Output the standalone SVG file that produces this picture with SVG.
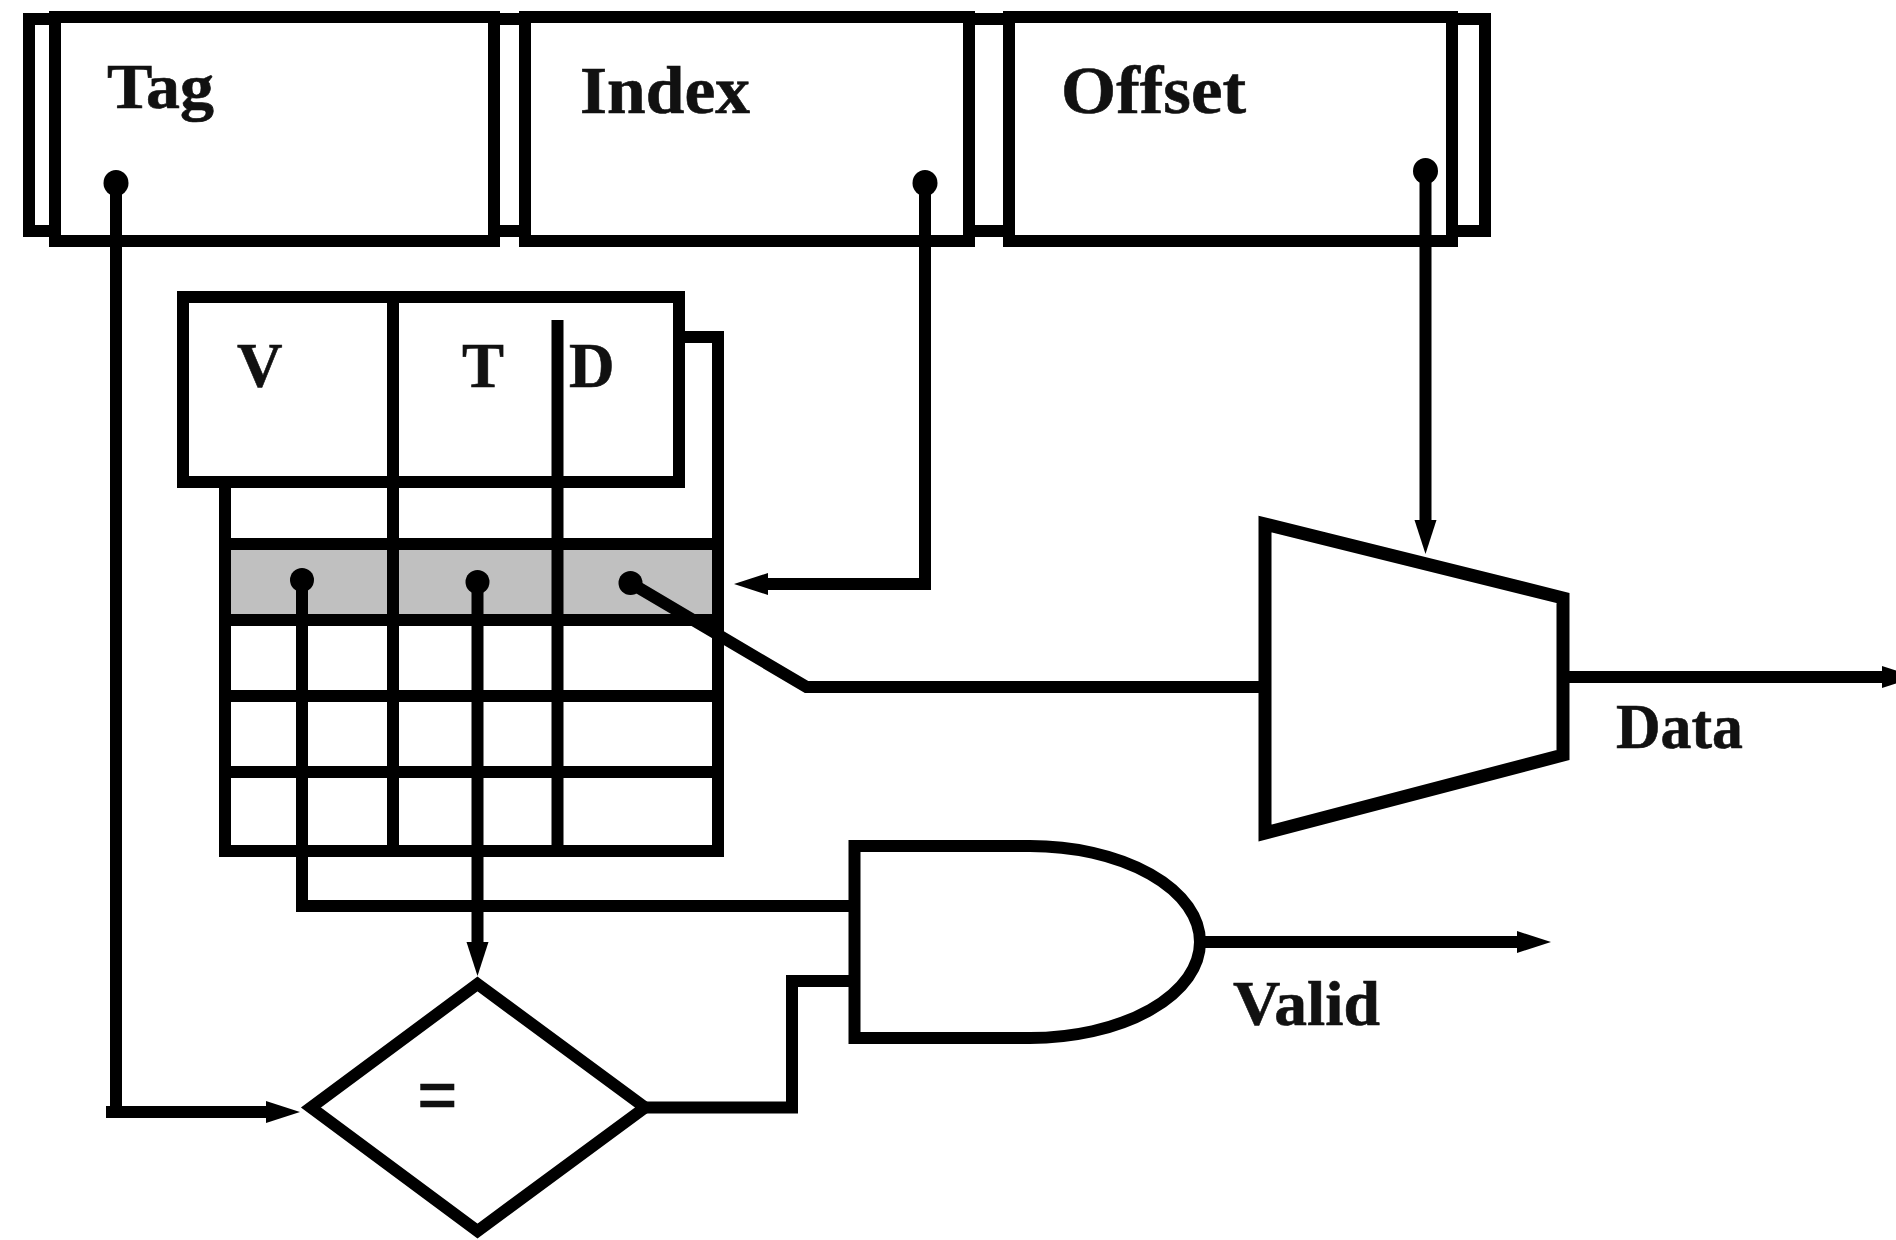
<svg xmlns="http://www.w3.org/2000/svg" width="1896" height="1240" viewBox="0 0 1896 1240">
<style>
.s{fill:#fff;stroke:#000;stroke-width:12;stroke-linejoin:miter}
.g{fill:#c0c0c0;stroke:none}
.n{fill:none;stroke:#000;stroke-width:12}
.w{fill:none;stroke:#000;stroke-width:12;stroke-linejoin:miter}
.d{fill:#000;stroke:none}
text{font-family:"Liberation Serif","Times New Roman",serif;font-weight:bold;font-size:63px;fill:#111;stroke:#111;stroke-width:0.6}
</style>
<defs>
<marker id="a" markerUnits="userSpaceOnUse" markerWidth="44" markerHeight="30" refX="2" refY="13" orient="auto"><path d="M0,2 L34,13 L0,24 Z" fill="#000"/></marker>
</defs>
<rect width="1896" height="1240" fill="#fff"/>
<g id="register">
<rect id="register-back" class="s" x="29" y="19" width="1456" height="212"/>
<g id="tag"><rect class="s" x="55" y="17" width="439" height="224"/><text x="107" y="108" textLength="107" lengthAdjust="spacingAndGlyphs">Tag</text></g>
<g id="index"><rect class="s" x="525" y="17" width="444" height="224"/><text x="580" y="113" textLength="170" lengthAdjust="spacingAndGlyphs" style="font-size:67px">Index</text></g>
<g id="offset"><rect class="s" x="1009" y="17" width="443" height="224"/><text x="1061" y="113" textLength="185" lengthAdjust="spacingAndGlyphs" style="font-size:67px">Offset</text></g>
</g>
<g id="cache">
<rect id="cache-back" class="s" x="225" y="337" width="493" height="514"/>
<rect id="cache-row" class="g" x="225" y="544" width="493" height="76"/>
<path class="n" d="M225,544H718M225,620H718M225,696H718M225,772H718M393,482V851M557.500,482V851"/>
<rect id="cache-back-frame" x="225" y="337" width="493" height="514" fill="none" stroke="#000" stroke-width="12"/>
<g id="cache-head"><rect x="183" y="297" width="496" height="185" fill="#fff" stroke="#000" stroke-width="12"/>
<path class="n" d="M393,297V482M557.500,320V482"/>
<text x="237" y="387">V</text><text x="462" y="387">T</text><text x="569" y="387">D</text></g>
</g>
<g id="mux"><path class="s" style="stroke-width:13" d="M1265,524V833L1563,755V598Z"/></g>
<g id="and-gate"><path class="s" d="M854.500,846H1030A170,96 0 0 1 1030,1038H854.500Z"/></g>
<g id="comparator"><path class="s" d="M477.500,984L645,1107.500L477.500,1231L311,1107.500Z"/><text x="417" y="1124" style="font-size:84px" textLength="41" lengthAdjust="spacingAndGlyphs">=</text></g>
<g id="connectors">
<path class="w" d="M116,183V1112H106M116,1112H268" marker-end="url(#a)"/>
<path class="w" d="M925,183V584H766" marker-end="url(#a)"/>
<path class="w" d="M1425.500,171V522" marker-end="url(#a)"/>
<path class="w" d="M302,580V906H852"/>
<path class="w" d="M477.500,582V944" marker-end="url(#a)"/>
<path class="w" d="M630.500,583L806.500,687H1265"/>
<path class="w" d="M1563,677H1884" marker-end="url(#a)"/>
<path class="w" d="M1200,942H1519" marker-end="url(#a)"/>
<path class="w" d="M645,1107.500H792V981H852"/>
<ellipse class="d" cx="116" cy="183" rx="12.500" ry="13"/>
<ellipse class="d" cx="925" cy="183" rx="12.500" ry="13"/>
<ellipse class="d" cx="1425.500" cy="171" rx="12.500" ry="13"/>
<ellipse class="d" cx="302" cy="580" rx="12" ry="12"/>
<ellipse class="d" cx="477.500" cy="582" rx="12" ry="12"/>
<ellipse class="d" cx="630.500" cy="583" rx="12" ry="12"/>
</g>
<g id="labels"><text x="1616" y="748" textLength="127" lengthAdjust="spacingAndGlyphs">Data</text><text x="1233" y="1025" textLength="147" lengthAdjust="spacingAndGlyphs">Valid</text></g>
</svg>
